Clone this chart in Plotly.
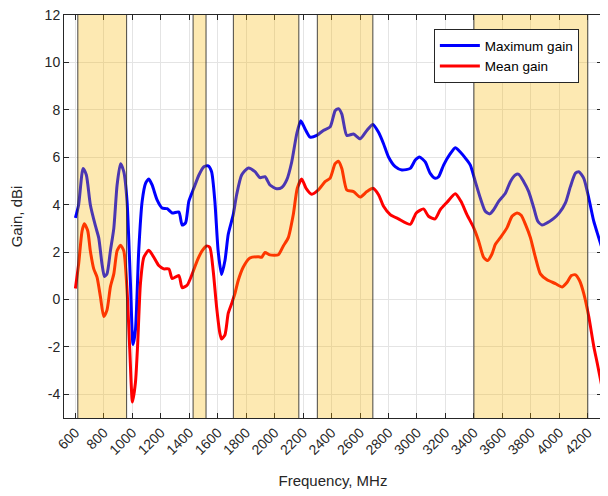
import plotly.graph_objects as go

freq_max = [600, 623, 654, 677, 705, 741, 764, 787, 804, 822, 846, 870, 893, 917, 940, 963, 987, 1005, 1022,
            1045, 1069, 1093, 1116, 1139, 1174, 1209, 1245, 1280, 1327, 1350, 1374, 1397, 1432, 1468, 1503,
            1533, 1557, 1580, 1603, 1627, 1651, 1674, 1709, 1733, 1768, 1815, 1862, 1897, 1932, 1967, 2014,
            2050, 2085, 2120, 2155, 2183, 2214, 2249, 2296, 2342, 2390, 2425, 2448, 2472, 2507, 2554, 2601,
            2648, 2690, 2730, 2765, 2800, 2847, 2894, 2953, 2988, 3018, 3058, 3093, 3128, 3152, 3187, 3234,
            3269, 3304, 3351, 3375, 3410, 3445, 3480, 3511, 3539, 3574, 3621, 3656, 3691, 3715, 3750, 3785,
            3821, 3849, 3879, 3914, 3961, 4000, 4043, 4078, 4113, 4137, 4172, 4207, 4242, 4266, 4300]
gain_max = [3.44, 4.0, 5.53, 5.25, 4.0, 3.1, 2.6, 1.5, 0.97, 1.08, 2.05, 3.0, 4.83, 5.73, 5.39, 4.14, 0.67, -1.9, -1.28,
            2.05, 4.14, 4.9, 5.08, 4.83, 4.2, 3.86, 3.83, 3.65, 3.69, 3.14, 3.23, 4.14, 4.69, 5.25, 5.6,
            5.64, 5.39, 4.14, 2.05, 1.05, 1.64, 2.75, 3.58, 4.42, 5.25, 5.55, 5.39, 5.14, 5.18, 4.83, 4.67,
            4.72, 5.04, 5.8, 6.98, 7.54, 7.19, 6.85, 6.92, 7.13, 7.28, 7.96, 8.05, 7.82, 6.92, 6.98, 6.78,
            7.13, 7.38, 7.05, 6.57, 6.01, 5.6, 5.46, 5.53, 5.88, 6.01, 5.8, 5.32, 5.11, 5.18, 5.67, 6.15,
            6.4, 6.22, 5.88, 5.67, 4.97, 4.28, 3.72, 3.61, 3.79, 4.14, 4.48, 4.97, 5.25, 5.28, 4.97, 4.55,
            3.86, 3.3, 3.14, 3.23, 3.42, 3.65, 4.07, 4.76, 5.32, 5.39, 5.11, 4.28, 3.3, 2.82, 2.17]

freq_mean = [600, 623, 647, 663, 687, 705, 729, 752, 776, 799, 822, 846, 870, 893, 917, 940, 963, 982, 1001,
             1022, 1038, 1057, 1081, 1116, 1151, 1186, 1221, 1257, 1280, 1327, 1350, 1385, 1421, 1456, 1490,
             1522, 1545, 1568, 1592, 1615, 1627, 1651, 1674, 1698, 1721, 1744, 1779, 1826, 1885, 1909, 1932,
             1967, 2026, 2061, 2096, 2131, 2159, 2190, 2221, 2261, 2307, 2354, 2390, 2425, 2448, 2472, 2507,
             2554, 2601, 2648, 2690, 2730, 2765, 2812, 2870, 2953, 2995, 3046, 3081, 3128, 3164, 3211, 3269,
             3309, 3351, 3398, 3433, 3468, 3496, 3527, 3551, 3586, 3633, 3668, 3703, 3732, 3762, 3797, 3832,
             3867, 3914, 3973, 4020, 4055, 4085, 4114, 4142, 4172, 4207, 4242, 4266, 4300]
gain_mean = [0.46, 1.5, 2.89, 3.19, 2.89, 2.05, 1.29, 0.94, 0.11, -0.72, -0.45, 0.53, 1.08, 2.05, 2.29, 2.05, 0.39, -2.11, -4.33,
             -3.5, -1.83, 0.67, 1.78, 2.08, 1.78, 1.43, 1.29, 1.29, 0.88, 1.01, 0.5, 0.6, 1.08, 1.64, 2.05,
             2.26, 2.19, 1.22, -0.31, -1.42, -1.67, -1.49, -0.58, -0.17, 0.25, 0.8, 1.36, 1.75, 1.8, 1.78, 1.98,
             1.88, 1.89, 2.26, 2.61, 3.58, 4.69, 5.08, 4.69, 4.44, 4.62, 4.97, 5.12, 5.73, 5.83, 5.53, 4.62,
             4.55, 4.32, 4.55, 4.69, 4.42, 3.93, 3.58, 3.4, 3.17, 3.65, 3.82, 3.51, 3.4, 3.79, 4.1, 4.46,
             4.14, 3.58, 3.03, 2.47, 1.78, 1.64, 1.92, 2.33, 2.61, 3.03, 3.51, 3.65, 3.55, 3.17, 2.61, 1.78,
             1.08, 0.83, 0.67, 0.53, 0.73, 1.01, 1.04, 0.8, 0.25, -0.72, -1.97, -2.67, -3.7]

bands = [(617, 960), (1427, 1518), (1710, 2170), (2300, 2690), (3400, 4200)]

x_ticks = list(range(600, 4201, 200))
y_ticks = list(range(-4, 13, 2))

fig = go.Figure()
fig.add_trace(go.Scatter(x=freq_max, y=gain_max, mode="lines", name="Maximum gain",
                         line=dict(color="rgb(0,0,255)", width=3, shape="spline", smoothing=0.6)))
fig.add_trace(go.Scatter(x=freq_mean, y=gain_mean, mode="lines", name="Mean gain",
                         line=dict(color="rgb(255,0,0)", width=3, shape="spline", smoothing=0.6)))

for lo, hi in bands:
    fig.add_shape(type="rect", xref="x", yref="paper", x0=lo, x1=hi, y0=0, y1=1,
                  fillcolor="rgb(248,182,0)", opacity=0.3, line=dict(width=0), layer="above")
    for e in (lo, hi):
        fig.add_shape(type="line", xref="x", yref="paper", x0=e, x1=e, y0=0, y1=1,
                      line=dict(color="rgba(40,40,40,0.85)", width=1), layer="above")

font_fam = "Liberation Sans, Arial"
axis_common = dict(showgrid=True, gridcolor="rgb(228,228,228)", gridwidth=1,
                   showline=True, linecolor="rgb(38,38,38)", linewidth=1, mirror="ticks",
                   ticks="inside", ticklen=5, tickcolor="rgb(38,38,38)", zeroline=False,
                   automargin=False, ticklabeloverflow="allow",
                   tickfont=dict(family=font_fam, size=14, color="rgb(38,38,38)"))

fig.update_xaxes(range=[520, 4300], tickvals=x_ticks, ticktext=[str(v) for v in x_ticks], tickangle=-45,
                 title=dict(text="Frequency, MHz", font=dict(family=font_fam, size=15, color="rgb(38,38,38)"),
                            standoff=18),
                 **axis_common)
fig.update_yaxes(range=[-5, 12], tickvals=y_ticks, ticktext=[str(v) for v in y_ticks],
                 title=dict(text="Gain, dBi", font=dict(family=font_fam, size=15, color="rgb(38,38,38)"),
                            standoff=27),
                 **axis_common)

fig.update_layout(
    width=600, height=488,
    margin=dict(l=56, r=6, t=7, b=78),
    plot_bgcolor="white", paper_bgcolor="white",
    showlegend=True,
    legend=dict(x=0.957, y=0.965, xanchor="right", yanchor="top",
                bgcolor="white", bordercolor="rgb(38,38,38)", borderwidth=1,
                font=dict(family=font_fam, size=13.5, color="black"),
                tracegroupgap=0, itemwidth=40),
)

fig.write_html("out.html")
